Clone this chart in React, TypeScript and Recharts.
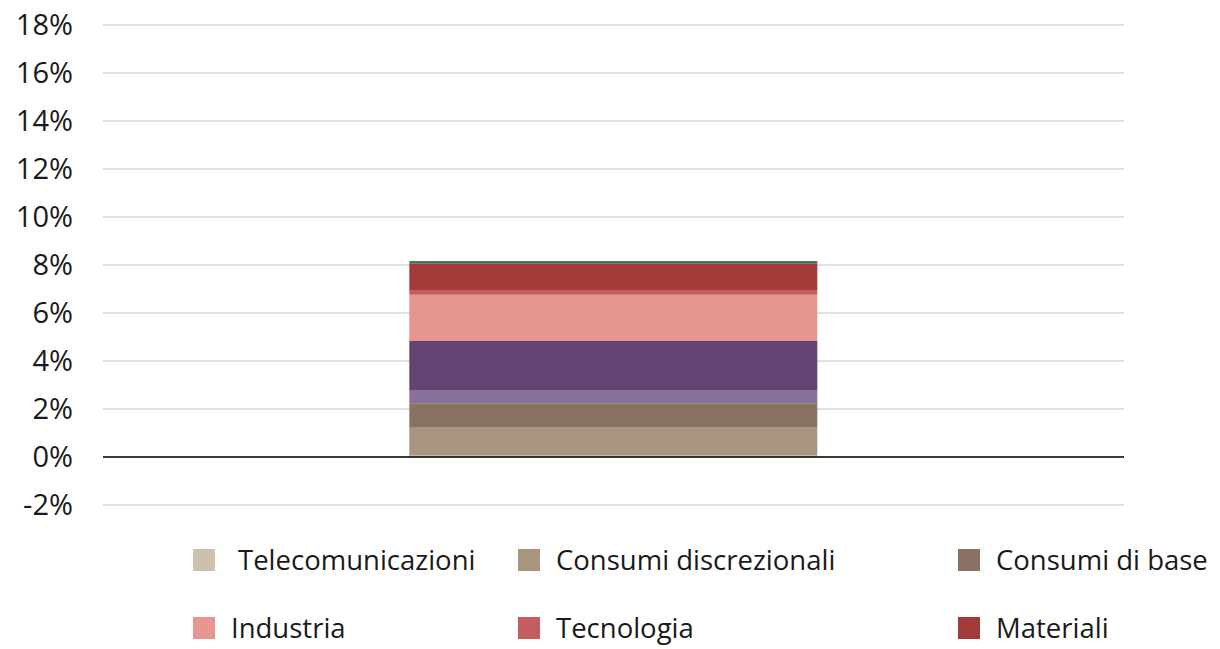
import { BarChart, Bar, XAxis, YAxis, CartesianGrid, ReferenceLine } from "recharts";

// one stacked column, sector weights in % (bottom to top)
const categories = ["Portafoglio"];
const sectors = [
  "Telecomunicazioni",
  "Consumi discrezionali",
  "Consumi di base",
  "Sanità",
  "Finanza",
  "Industria",
  "Tecnologia",
  "Materiali",
  "Servizi pubblici",
];
const weights = [0.06, 1.19, 0.99, 0.55, 2.04, 1.93, 0.2, 1.11, 0.1];
const colors = [
  "#cfbfad",
  "#a8947f",
  "#8a7262",
  "#877099",
  "#624474",
  "#e6958f",
  "#c45e5e",
  "#a53a3b",
  "#2e7d6e",
];
const yTicks = [-2, 0, 2, 4, 6, 8, 10, 12, 14, 16, 18];
// entries visible in the legend, in its order
const legendItems = [
  "Telecomunicazioni",
  "Consumi discrezionali",
  "Consumi di base",
  "Industria",
  "Tecnologia",
  "Materiali",
];

const data = categories.map((name) => {
  const row: Record<string, string | number> = { name };
  sectors.forEach((s, i) => {
    row[s] = weights[i];
  });
  return row;
});

const font = "'Open Sans', 'Noto Sans', sans-serif";
const legendCols = [193, 518, 958];
const legendRows = [560, 628];

export default function App() {
  return (
    <div
      style={{
        position: "absolute",
        left: 0,
        top: 0,
        width: 1220,
        height: 649,
        overflow: "hidden",
        background: "#fff",
        fontFamily: font,
      }}
    >
      <BarChart
        width={1220}
        height={530}
        data={data}
        margin={{ top: 25, right: 96, bottom: 25, left: 0 }}
        barCategoryGap="30%"
      >
        <CartesianGrid vertical={false} stroke="#c4c4c4" strokeWidth={1.2} />
        <XAxis dataKey="name" hide />
        <YAxis
          width={103}
          domain={[-2, 18]}
          ticks={yTicks}
          tickFormatter={(v) => `${v}%`}
          axisLine={false}
          tickLine={false}
          tickSize={0}
          tickMargin={30}
          tick={{ fontSize: 29, fill: "#1a1a1a", fontFamily: font }}
          interval={0}
        />
        {sectors.map((s, i) => (
          <Bar key={s} dataKey={s} stackId="a" fill={colors[i]} isAnimationActive={false} />
        ))}
        <ReferenceLine y={0} stroke="#000" strokeWidth={1.5} />
      </BarChart>
      {legendItems.map((name, i) => {
        const color = colors[sectors.indexOf(name)];
        return (
          <div
            key={name}
            style={{
              position: "absolute",
              left: legendCols[i % 3],
              top: legendRows[Math.floor(i / 3)] - 17,
              height: 34,
              lineHeight: "34px",
              display: "flex",
              alignItems: "center",
              whiteSpace: "nowrap",
              fontSize: 27.5,
              color: "#1a1a1a",
            }}
          >
            <span
              style={{ width: 22, height: 22, background: color, marginRight: i === 0 ? 23 : 16 }}
            />
            {name}
          </div>
        );
      })}
    </div>
  );
}
